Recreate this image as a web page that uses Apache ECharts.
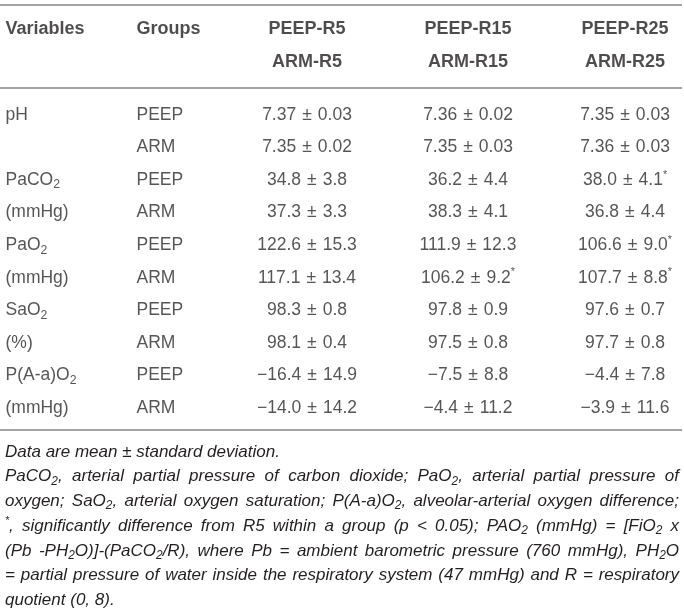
<!DOCTYPE html>
<html><head><meta charset="utf-8">
<script src="https://cdn.jsdelivr.net/npm/echarts@6/dist/echarts.min.js"></script>
<style>html,body{margin:0;padding:0;background:#fff}#c{width:684px;height:614px}</style>
</head><body><div id="c"></div>
<script>
// ---------------- data ----------------
const headerLine1 = ['Variables', 'Groups', 'PEEP-R5', 'PEEP-R15', 'PEEP-R25'];
const headerLine2 = ['', '', 'ARM-R5', 'ARM-R15', 'ARM-R25'];
const variables = ['pH', '', 'PaCO_2', '(mmHg)', 'PaO_2', '(mmHg)', 'SaO_2', '(%)', 'P(A-a)O_2', '(mmHg)'];
const groups = ['PEEP', 'ARM', 'PEEP', 'ARM', 'PEEP', 'ARM', 'PEEP', 'ARM', 'PEEP', 'ARM'];
const decimals = [2, 2, 1, 1, 1, 1, 1, 1, 1, 1];
const meanR5 = [7.37, 7.35, 34.8, 37.3, 122.6, 117.1, 98.3, 98.1, -16.4, -14.0];
const sdR5 = [0.03, 0.02, 3.8, 3.3, 15.3, 13.4, 0.8, 0.4, 14.9, 14.2];
const sigR5 = [0, 0, 0, 0, 0, 0, 0, 0, 0, 0];
const meanR15 = [7.36, 7.35, 36.2, 38.3, 111.9, 106.2, 97.8, 97.5, -7.5, -4.4];
const sdR15 = [0.02, 0.03, 4.4, 4.1, 12.3, 9.2, 0.9, 0.8, 8.8, 11.2];
const sigR15 = [0, 0, 0, 0, 0, 1, 0, 0, 0, 0];
const meanR25 = [7.35, 7.36, 38.0, 36.8, 106.6, 107.7, 97.6, 97.7, -4.4, -3.9];
const sdR25 = [0.03, 0.03, 4.1, 4.4, 9.0, 8.8, 0.7, 0.8, 7.8, 11.6];
const sigR25 = [0, 0, 1, 0, 1, 1, 0, 0, 0, 0];
const footnotes = [
  'Data are mean \u00b1 standard deviation.',
  'PaCO_2, arterial partial pressure of carbon dioxide; PaO_2, arterial partial pressure of',
  'oxygen; SaO_2, arterial oxygen saturation; P(A-a)O_2, alveolar-arterial oxygen difference;',
  '^*, significantly difference from R5 within a group (p < 0.05); PAO_2 (mmHg) = [FiO_2 x',
  '(Pb -PH_2O)]-(PaCO_2/R), where Pb = ambient barometric pressure (760 mmHg), PH_2O',
  '= partial pressure of water inside the respiratory system (47 mmHg) and R = respiratory',
  'quotient (0, 8).'
];
const justified = [false, true, true, true, true, true, false];

// ---------------- layout / style ----------------
const W = 684, H = 614;
const FONT = '"Liberation Sans", Arial, Helvetica, sans-serif';
const TXT = '#231f20';
const BODY_TXT = '#2a2a2a';
const colX = [5, 136, 307, 468, 625];
const colLeft = [true, true, false, false, false];
const BODY_SIZE = 17.5, HEAD_SIZE = 18, NOTE_SIZE = 17;
const PM_PAD = 6;
const headTop = 29, headBottom = 62;
const bodyTop = 115, bodyBottom = 408;
const rules = [5, 88, 430];
const noteTop = 452, notePitch = 24.7, noteLeft = 5, noteRight = 679;

// markup: _X = subscript char, ^* = superscript asterisk
function toRich(s, padPm) {
  let r = s.replace(/_(\w)/g, '{sub|$1}').replace(/\^(\*)/g, '{sup|$1}');
  if (padPm) r = r.replace(/\u00b1/g, '{pm|\u00b1}');
  return r;
}
function fmt(v, d) {
  const s = Math.abs(v).toFixed(d);
  return (v < 0 ? '\u2212' : '') + s;
}
function cell(m, s, d, sig) {
  return fmt(m, d) + '\u00b1' + s.toFixed(d) + (sig ? '^*' : '');
}
const colR5 = meanR5.map((m, i) => cell(m, sdR5[i], decimals[i], sigR5[i]));
const colR15 = meanR15.map((m, i) => cell(m, sdR15[i], decimals[i], sigR15[i]));
const colR25 = meanR25.map((m, i) => cell(m, sdR25[i], decimals[i], sigR25[i]));
const bodyCols = [variables, groups, colR5, colR15, colR25];

function richStyles(size, style, weight, color) {
  return {
    sub: { fontSize: size * 0.7, fontFamily: FONT, fontStyle: style, fontWeight: weight, color: color, verticalAlign: 'bottom', lineHeight: size * 0.72 },
    sup: { fontSize: size * 0.62, fontFamily: FONT, fontStyle: style, fontWeight: weight, color: color, verticalAlign: 'top', lineHeight: size * 0.9 },
    pm: { fontSize: size, fontFamily: FONT, fontStyle: style, fontWeight: weight, color: color, padding: [0, PM_PAD, 0, PM_PAD], lineHeight: size * 1.25 }
  };
}

function makeSeries(cols, gridIdx, size, weight, color) {
  return cols.map((col, c) => ({
    type: 'scatter',
    xAxisIndex: gridIdx, yAxisIndex: gridIdx,
    symbolSize: 1,
    itemStyle: { color: 'rgba(0,0,0,0)' },
    silent: true,
    emphasis: { disabled: true },
    label: {
      show: true,
      position: colLeft[c] ? 'right' : 'inside',
      distance: 0,
      align: colLeft[c] ? 'left' : 'center',
      verticalAlign: 'middle',
      formatter: p => toRich(p.name, true),
      fontFamily: FONT, fontSize: size, fontWeight: weight, color: color,
      lineHeight: size * 1.25,
      rich: richStyles(size, 'normal', weight, color)
    },
    data: col.map((t, r) => ({ name: t, value: [colX[c], r] })).filter(d => d.name !== '')
  }));
}

const headerCols = colX.map((x, c) => [headerLine1[c], headerLine2[c]]);

// footnotes: justified word placement
const mctx = document.createElement('canvas').getContext('2d');
function measureParts(word, size) {
  let w = 0;
  const re = /_(\w)|\^(\*)|([^_^]+)/g;
  let m;
  while ((m = re.exec(word))) {
    if (m[1]) { mctx.font = 'italic normal ' + (size * 0.7) + 'px ' + FONT; w += mctx.measureText(m[1]).width; }
    else if (m[2]) { mctx.font = 'italic normal ' + (size * 0.62) + 'px ' + FONT; w += mctx.measureText(m[2]).width; }
    else { mctx.font = 'italic normal ' + size + 'px ' + FONT; w += mctx.measureText(m[3]).width; }
  }
  return w;
}
const graphics = [];
rules.forEach(y => graphics.push({
  type: 'line', silent: true,
  shape: { x1: 0, y1: y, x2: 682, y2: y },
  style: { stroke: '#a3a3a3', lineWidth: 2 }
}));
footnotes.forEach((line, li) => {
  const words = line.split(' ');
  const widths = words.map(w => measureParts(w, NOTE_SIZE));
  const total = widths.reduce((a, b) => a + b, 0);
  mctx.font = 'italic normal ' + NOTE_SIZE + 'px ' + FONT;
  const spaceW = mctx.measureText(' ').width;
  const gap = justified[li] && words.length > 1 ? (noteRight - noteLeft - total) / (words.length - 1) : spaceW;
  let x = noteLeft;
  const y = noteTop + li * notePitch;
  words.forEach((w, wi) => {
    graphics.push({
      type: 'text', silent: true, x: x, y: y,
      style: {
        text: toRich(w, false), fill: TXT,
        fontStyle: 'italic', fontSize: NOTE_SIZE, fontFamily: FONT,
        lineHeight: NOTE_SIZE * 1.25,
        verticalAlign: 'middle', align: 'left',
        rich: richStyles(NOTE_SIZE, 'italic', 'normal', TXT)
      }
    });
    x += widths[wi] + gap;
  });
});

const chart = echarts.init(document.getElementById('c'), null, { renderer: 'canvas' });
chart.setOption({
  animation: false,
  backgroundColor: '#fff',
  grid: [
    { left: 0, right: 0, top: headTop, bottom: H - headBottom },
    { left: 0, right: 0, top: bodyTop, bottom: H - bodyBottom }
  ],
  xAxis: [
    { type: 'value', gridIndex: 0, min: 0, max: W, show: false },
    { type: 'value', gridIndex: 1, min: 0, max: W, show: false }
  ],
  yAxis: [
    { type: 'category', gridIndex: 0, data: ['line1', 'line2'], inverse: true, boundaryGap: false, show: false },
    { type: 'category', gridIndex: 1, data: variables.map((v, i) => 'row' + i), inverse: true, boundaryGap: false, show: false }
  ],
  series: makeSeries(headerCols, 0, HEAD_SIZE, 'bold', TXT).concat(makeSeries(bodyCols, 1, BODY_SIZE, 'normal', BODY_TXT)),
  graphic: graphics
});
</script></body></html>
